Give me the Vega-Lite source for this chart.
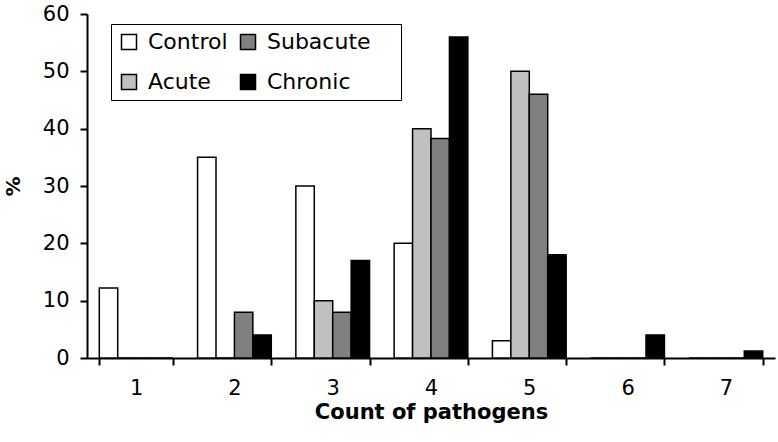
{
  "$schema": "https://vega.github.io/schema/vega-lite/v6.json",
  "width": 688,
  "height": 344,
  "autosize": "none",
  "padding": {"left": 87, "top": 14, "right": 3, "bottom": 84},
  "background": "white",
  "config": {"view": {"stroke": null}, "font": "DejaVu Sans"},
  "data": {
    "values": [
      {"count": "1", "group": "Control", "pct": 12.2},
      {"count": "1", "group": "Acute", "pct": 0},
      {"count": "1", "group": "Subacute", "pct": 0},
      {"count": "1", "group": "Chronic", "pct": 0},
      {"count": "2", "group": "Control", "pct": 35},
      {"count": "2", "group": "Acute", "pct": 0},
      {"count": "2", "group": "Subacute", "pct": 8},
      {"count": "2", "group": "Chronic", "pct": 4},
      {"count": "3", "group": "Control", "pct": 30},
      {"count": "3", "group": "Acute", "pct": 10},
      {"count": "3", "group": "Subacute", "pct": 8},
      {"count": "3", "group": "Chronic", "pct": 17},
      {"count": "4", "group": "Control", "pct": 20},
      {"count": "4", "group": "Acute", "pct": 40},
      {"count": "4", "group": "Subacute", "pct": 38.3},
      {"count": "4", "group": "Chronic", "pct": 56},
      {"count": "5", "group": "Control", "pct": 3},
      {"count": "5", "group": "Acute", "pct": 50},
      {"count": "5", "group": "Subacute", "pct": 46},
      {"count": "5", "group": "Chronic", "pct": 18},
      {"count": "6", "group": "Control", "pct": 0},
      {"count": "6", "group": "Acute", "pct": 0},
      {"count": "6", "group": "Subacute", "pct": 0},
      {"count": "6", "group": "Chronic", "pct": 4},
      {"count": "7", "group": "Control", "pct": 0},
      {"count": "7", "group": "Acute", "pct": 0},
      {"count": "7", "group": "Subacute", "pct": 0},
      {"count": "7", "group": "Chronic", "pct": 1.2}
    ]
  },
  "mark": {"type": "bar", "stroke": "black", "strokeWidth": 1.5},
  "encoding": {
    "x": {
      "field": "count",
      "type": "ordinal",
      "scale": {"paddingInner": 0.25, "paddingOuter": 0.125},
      "axis": {
        "title": "Count of pathogens",
        "titleFontSize": 21,
        "titleFontWeight": "bold",
        "titleColor": "black",
        "titlePadding": 3,
        "labelAngle": 0,
        "labelFontSize": 21,
        "labelColor": "black",
        "labelPadding": 12,
        "tickBand": "extent",
        "tickSize": 7,
        "tickWidth": 2,
        "tickColor": "black",
        "domainColor": "black",
        "domainWidth": 2,
        "grid": false
      }
    },
    "xOffset": {
      "field": "group",
      "sort": ["Control", "Acute", "Subacute", "Chronic"],
      "scale": {"paddingInner": 0, "paddingOuter": 0}
    },
    "y": {
      "field": "pct",
      "type": "quantitative",
      "scale": {"domain": [0, 60], "nice": false},
      "axis": {
        "title": "%",
        "titleFontSize": 20,
        "titleFontWeight": "bold",
        "titleColor": "black",
        "titlePadding": 19,
        "values": [0, 10, 20, 30, 40, 50, 60],
        "labelFontSize": 21,
        "labelColor": "black",
        "labelPadding": 11,
        "tickSize": 7,
        "tickWidth": 2,
        "tickColor": "black",
        "domainColor": "black",
        "domainWidth": 2,
        "grid": false
      }
    },
    "color": {
      "field": "group",
      "type": "nominal",
      "scale": {
        "domain": ["Control", "Acute", "Subacute", "Chronic"],
        "range": ["#ffffff", "#c0c0c0", "#808080", "#000000"]
      },
      "legend": {
        "orient": "none",
        "legendX": 24,
        "legendY": 10,
        "title": null,
        "columns": 2,
        "symbolType": "square",
        "symbolSize": 225,
        "symbolStrokeColor": "black",
        "symbolStrokeWidth": 1.5,
        "labelFontSize": 22,
        "labelColor": "black",
        "labelOffset": 8,
        "columnPadding": 9,
        "rowPadding": 18,
        "padding": 7,
        "strokeColor": "black",
        "labelExpr": "datum.label == 'Subacute' ? datum.label + ' \u2800' : datum.label"
      }
    }
  }
}
